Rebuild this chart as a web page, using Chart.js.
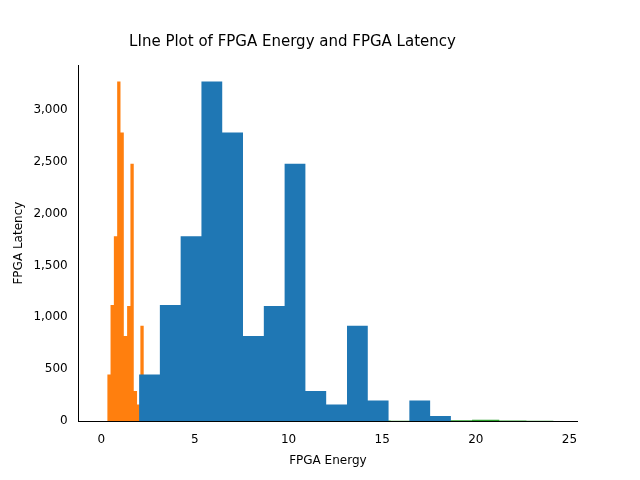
<!DOCTYPE html>
<html><head><script src="https://cdn.jsdelivr.net/npm/chart.js"></script>
<style>body{margin:0;background:#fff}</style></head>
<body><canvas id="c" width="640" height="480"></canvas>
<script>
const counts = [450,1120,1780,3270,2780,820,1110,2480,290,160,920,200,0,200,50];
const blueEdges = [2.02,3.13,4.24,5.35,6.46,7.57,8.68,9.79,10.9,12.01,13.12,14.23,15.34,16.45,17.56,18.67];
const orangeEdges = [0.32,0.497,0.674,0.851,1.028,1.205,1.382,1.559,1.736,1.913,2.09,2.267,2.444,2.621,2.798,2.975];
const greenCounts = [15,12,10,8,6,5,6,8,6,5,4,8,15,6,5];
const greenEdges = [2.4,3.85,5.3,6.75,8.2,9.65,11.1,12.55,14.0,15.45,16.9,18.35,19.8,21.25,22.7,24.15];
const xTicks = [0,5,10,15,20,25];
const yTicks = [0,500,1000,1500,2000,2500,3000];
function hist(edges, c){
  const p=[{x:edges[0],y:0}];
  for(let i=0;i<c.length;i++) p.push({x:edges[i],y:c[i]});
  p.push({x:edges[edges.length-1],y:0});
  return p;
}
function ds(edges,c,col){return {data:hist(edges,c),stepped:true,fill:'origin',backgroundColor:col,borderColor:col,borderWidth:0,pointRadius:0};}
new Chart(document.getElementById('c'),{
  type:'line',
  data:{datasets:[ds(blueEdges,counts,'#1f77b4'),ds(orangeEdges,counts,'#ff7f0e'),ds(greenEdges,greenCounts,'#2ca02c')]},
  options:{animation:false,responsive:false,devicePixelRatio:1,
    layout:{padding:{left:8,right:63,top:0,bottom:8}},
    plugins:{legend:{display:false},title:{display:true,text:'LIne Plot of FPGA Energy and FPGA Latency',color:'#000',font:{family:'DejaVu Sans',size:15,weight:'normal'},padding:{top:33,bottom:14}}},
    scales:{
      x:{type:'linear',min:-1.2,max:25.4,grid:{display:false},border:{color:'#000'},
        afterBuildTicks:s=>{s.ticks=xTicks.map(v=>({value:v}));},
        ticks:{color:'#000',font:{family:'DejaVu Sans',size:12}},
        title:{display:true,text:'FPGA Energy',color:'#000',font:{family:'DejaVu Sans',size:12}}},
      y:{min:0,max:3430,grid:{display:false},border:{color:'#000'},
        afterBuildTicks:s=>{s.ticks=yTicks.map(v=>({value:v}));},
        ticks:{color:'#000',font:{family:'DejaVu Sans',size:12}},
        title:{display:true,text:'FPGA Latency',color:'#000',font:{family:'DejaVu Sans',size:12}}}
    }}
});
</script></body></html>
